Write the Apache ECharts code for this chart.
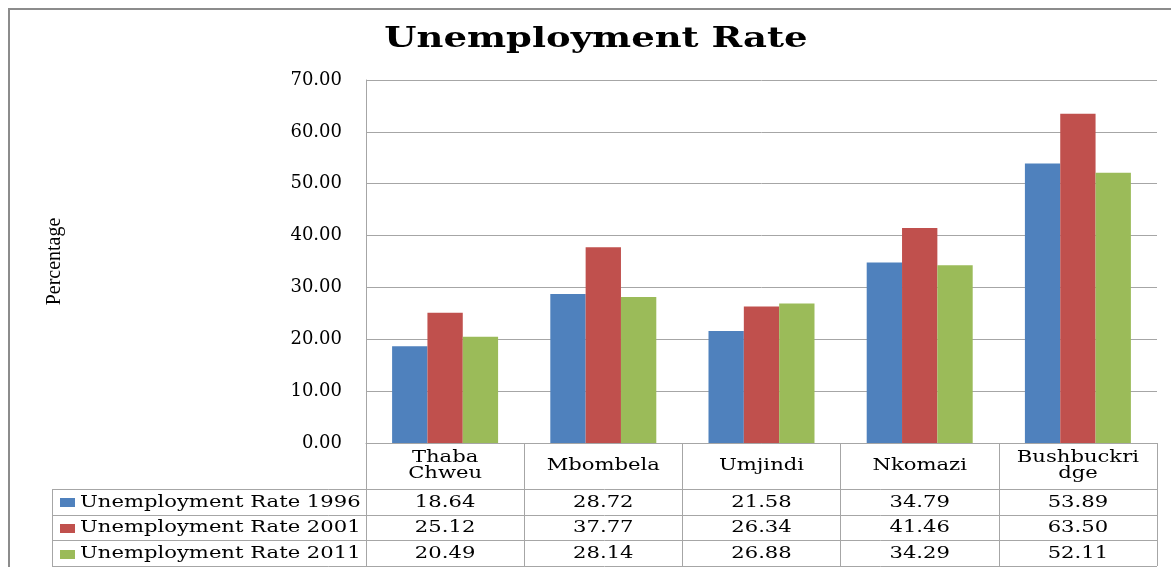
<!DOCTYPE html>
<html>
<head>
<meta charset="utf-8">
<script src="https://cdn.jsdelivr.net/npm/echarts@6/dist/echarts.min.js"></script>
<style>
  html, body { margin: 0; padding: 0; background: #fff; }
  #chart { width: 1171px; height: 567px; }
</style>
</head>
<body>
<div id="chart"></div>
<script>
// data
var municipalities = ['Thaba\nChweu', 'Mbombela', 'Umjindi', 'Nkomazi', 'Bushbuckri\ndge'];
var seriesNames = ['Unemployment Rate 1996', 'Unemployment Rate 2001', 'Unemployment Rate 2011'];
var rate1996 = [18.64, 28.72, 21.58, 34.79, 53.89];
var rate2001 = [25.12, 37.77, 26.34, 41.46, 63.50];
var rate2011 = [20.49, 28.14, 26.88, 34.29, 52.11];
var yTicks = [0, 10, 20, 30, 40, 50, 60, 70];

var colors = ['#4F81BD', '#C0504D', '#9BBB59'];
var allRates = [rate1996, rate2001, rate2011];
var serif = 'DejaVu Serif';
var lineGray = '#a6a6a6';
var stretch = 1.32; // the original text is drawn wide

var chart = echarts.init(document.getElementById('chart'));

var option = {
  animation: false,
  color: colors,
  grid: { left: 366, right: 14, top: 80, bottom: 124 },
  xAxis: {
    type: 'category',
    data: municipalities,
    axisLine: { lineStyle: { color: lineGray } },
    axisTick: { show: true, length: 123, lineStyle: { color: lineGray } },
    axisLabel: { show: false }
  },
  yAxis: {
    type: 'value',
    min: yTicks[0],
    max: yTicks[yTicks.length - 1],
    interval: 10,
    name: 'Percentage',
    nameLocation: 'middle',
    nameRotate: 90,
    nameGap: 301,
    nameTextStyle: { fontFamily: 'Liberation Serif', fontSize: 20, color: '#000' },
    axisLine: { show: true, lineStyle: { color: lineGray } },
    axisTick: { show: false },
    splitLine: { lineStyle: { color: lineGray } },
    axisLabel: {
      margin: 24,
      fontFamily: serif,
      fontSize: 18,
      color: '#000',
      formatter: function (v) { return v.toFixed(2); }
    }
  },
  series: seriesNames.map(function (name, i) {
    return {
      name: name,
      type: 'bar',
      data: allRates[i],
      barGap: '0%',
      barCategoryGap: '33%'
    };
  })
};
chart.setOption(option);

function wideText(x, y, text, size, extra) {
  var style = {
    text: text, fontFamily: serif, fontSize: size, fill: '#000',
    align: 'center', verticalAlign: 'middle'
  };
  for (var k in extra) style[k] = extra[k];
  return { type: 'text', x: x, y: y, scaleX: stretch, style: style, silent: true };
}

// title, legend column and data table, laid out from the axis positions
function drawTable() {
  var band = chart.convertToPixel({ xAxisIndex: 0 }, 1) - chart.convertToPixel({ xAxisIndex: 0 }, 0);
  var x0 = chart.convertToPixel({ xAxisIndex: 0 }, 0) - band / 2;
  var xEnd = x0 + band * municipalities.length;
  var yAxisPos = chart.convertToPixel({ yAxisIndex: 0 }, 0);
  var headerH = 46, rowH = 25.7, tableLeft = 52;
  var firstRow = yAxisPos + headerH;
  var els = [];
  // outer chart border
  els.push({
    type: 'rect', shape: { x: 9, y: 9, width: 1200, height: 600 },
    style: { fill: null, stroke: '#8c8c8c', lineWidth: 2 }, silent: true
  });
  // title
  els.push(wideText(596, 40, 'Unemployment Rate', 28, { fontWeight: 'bold' }));
  // header row: category names
  municipalities.forEach(function (name, c) {
    els.push(wideText(x0 + band * (c + 0.5), yAxisPos + headerH / 2, name, 16, { lineHeight: 16 }));
  });
  for (var r = 0; r <= allRates.length; r++) {
    var y = Math.round(firstRow + r * rowH) + 0.5;
    els.push({ type: 'line', shape: { x1: tableLeft, y1: y, x2: xEnd, y2: y }, style: { stroke: lineGray, lineWidth: 1 } });
  }
  els.push({ type: 'line', shape: { x1: tableLeft + 0.5, y1: firstRow, x2: tableLeft + 0.5, y2: firstRow + rowH * 3 }, style: { stroke: lineGray, lineWidth: 1 } });
  allRates.forEach(function (arr, r) {
    var cy = firstRow + rowH * (r + 0.5) + 0.5;
    // legend key
    els.push({
      type: 'rect', shape: { x: 60, y: Math.round(cy - 4), width: 15, height: 9 },
      style: { fill: colors[r] }, silent: true
    });
    els.push(wideText(80, cy, seriesNames[r], 16, { align: 'left' }));
    arr.forEach(function (v, c) {
      els.push(wideText(x0 + band * (c + 0.5), cy, v.toFixed(2), 16));
    });
  });
  chart.setOption({ graphic: { elements: els } });
}
drawTable();
</script>
</body>
</html>
